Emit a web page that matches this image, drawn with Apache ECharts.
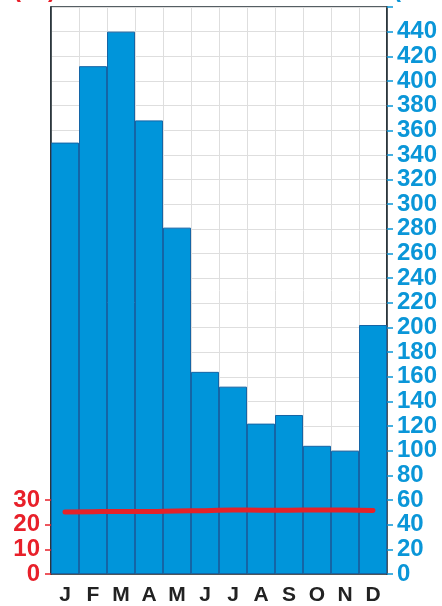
<!DOCTYPE html>
<html>
<head>
<meta charset="utf-8">
<script src="https://cdn.jsdelivr.net/npm/echarts@6/dist/echarts.min.js"></script>
<style>
  html, body { margin: 0; padding: 0; background: #fff; }
  #chart { width: 442px; height: 606px; }
</style>
</head>
<body>
<div id="chart"></div>
<script>
  // 月份
  const months = ['J', 'F', 'M', 'A', 'M', 'J', 'J', 'A', 'S', 'O', 'N', 'D']
  // 降水 (mm)
  const rain = [350, 412, 440, 368, 281, 164, 152, 122, 129, 104, 100, 202]
  // 气温 (°C)
  const temp = [25.1, 25.3, 25.4, 25.4, 25.6, 25.7, 26.0, 25.9, 25.9, 26.0, 26.0, 25.8]
  // 左轴刻度
  const tempTicks = [0, 10, 20, 30]

  const RED = '#e8202a'
  const BLUE = '#0a96d8'
  const FONT = 'Liberation Sans'

  let myChart = echarts.init(document.getElementById('chart'))
  myChart.setOption({
    animation: false,
    graphic: [
      { type: 'text', left: 13, top: -22, style: { text: '(°C)', fill: RED, font: 'bold 24px "Liberation Sans"' } },
      { type: 'text', left: 393, top: -22, style: { text: '(mm)', fill: BLUE, font: 'bold 24px "Liberation Sans"' } }
    ],
    grid: {
      left: 51,
      right: 55,
      top: 7,
      bottom: 31,
      show: true,
      borderColor: '#1e2a30',
      borderWidth: 1.5
    },
    xAxis: {
      type: 'category',
      data: months,
      boundaryGap: true,
      axisLine: { lineStyle: { color: '#1e2a30', width: 1.5 } },
      axisTick: { alignWithLabel: true, length: 8, lineStyle: { color: '#333', width: 1.5 } },
      axisLabel: { color: '#222', fontFamily: FONT, fontWeight: 'bold', fontSize: 21, margin: 11 },
      splitLine: { show: true, lineStyle: { color: '#dedede', width: 1 } }
    },
    yAxis: [
      {
        type: 'value',
        position: 'left',
        min: 0,
        max: 230,
        interval: 10,
        axisLine: { show: true, lineStyle: { color: '#1e2a30', width: 1.5 } },
        axisTick: { show: true, length: 6, customValues: tempTicks, lineStyle: { color: RED, width: 1.5 } },
        axisLabel: { color: RED, fontFamily: FONT, fontWeight: 'bold', fontSize: 24, margin: 11, customValues: tempTicks },
        splitLine: { show: false }
      },
      {
        type: 'value',
        position: 'right',
        min: 0,
        max: 460,
        interval: 20,
        axisLine: { show: true, lineStyle: { color: '#1e2a30', width: 1.5 } },
        axisTick: { show: true, length: 6, lineStyle: { color: BLUE, width: 1.5 } },
        axisLabel: {
          color: BLUE, fontFamily: FONT, fontWeight: 'bold', fontSize: 24, margin: 10,
          formatter: v => (v >= 460 ? '' : v)
        },
        splitLine: { show: true, lineStyle: { color: '#dedede', width: 1 } }
      }
    ],
    series: [
      {
        type: 'bar',
        yAxisIndex: 1,
        data: rain,
        barCategoryGap: '0%',
        itemStyle: { color: '#0095da', borderColor: '#1465a6', borderWidth: 1 }
      },
      {
        type: 'line',
        yAxisIndex: 0,
        data: temp,
        smooth: true,
        symbol: 'none',
        lineStyle: { color: '#e42229', width: 5, cap: 'round' },
        z: 5
      }
    ]
  })
</script>
</body>
</html>
